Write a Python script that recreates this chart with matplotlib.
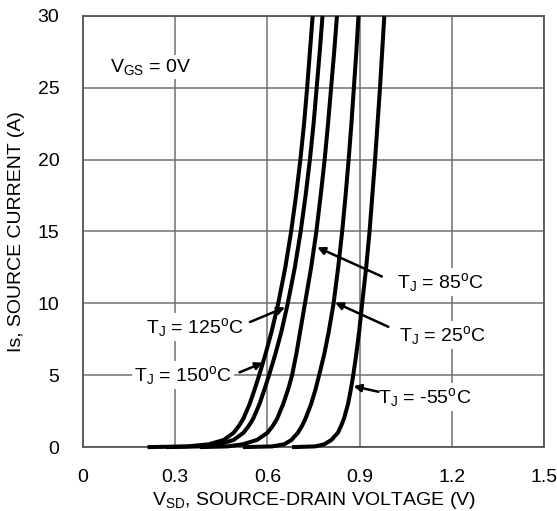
import numpy as np
import matplotlib
matplotlib.use('Agg')
import matplotlib.pyplot as plt

plt.rcParams['font.family'] = ['Liberation Sans', 'DejaVu Sans']
plt.rcParams['mathtext.fontset'] = 'custom'
plt.rcParams['mathtext.rm'] = 'Liberation Sans'
plt.rcParams['mathtext.it'] = 'Liberation Sans'

# source current (A), shared by all curves
current = [0, 0.05, 0.2, 0.5, 1, 1.5, 2, 3, 4, 5, 6.5, 8, 10,
           12.5, 15, 17.5, 20, 22.5, 25, 27.5, 30]

# source-drain voltage (V) read for each junction temperature
v_150 = [0.21, 0.34, 0.41, 0.458, 0.490, 0.508, 0.522, 0.542, 0.558, 0.573, 0.594,
         0.613, 0.635, 0.658, 0.677, 0.693, 0.707, 0.719, 0.729, 0.738, 0.747]
v_125 = [0.27, 0.38, 0.445, 0.490, 0.522, 0.540, 0.554, 0.574, 0.590, 0.605, 0.626,
         0.645, 0.666, 0.689, 0.708, 0.724, 0.738, 0.750, 0.760, 0.770, 0.779]
v_85 = [0.38, 0.47, 0.52, 0.566, 0.600, 0.618, 0.632, 0.651, 0.667, 0.680, 0.694,
        0.706, 0.722, 0.742, 0.759, 0.773, 0.786, 0.797, 0.807, 0.817, 0.826]
v_25 = [0.52, 0.615, 0.655, 0.678, 0.699, 0.713, 0.724, 0.742, 0.756, 0.768, 0.785,
        0.799, 0.815, 0.830, 0.843, 0.854, 0.864, 0.873, 0.881, 0.889, 0.896]
v_m55 = [0.68, 0.755, 0.785, 0.808, 0.829, 0.840, 0.849, 0.862, 0.871, 0.879, 0.889,
         0.898, 0.908, 0.921, 0.932, 0.941, 0.950, 0.958, 0.966, 0.973, 0.980]

x_ticks = [0, 0.3, 0.6, 0.9, 1.2, 1.5]
x_labels = ['0', '0.3', '0.6', '0.9', '1.2', '1.5']
y_ticks = [0, 5, 10, 15, 20, 25, 30]

fig = plt.figure(figsize=(5.57, 5.11), dpi=100)
ax = fig.add_axes([0.149, 0.125, 0.828, 0.844])

#---------------------------------------------------------------------
# curves
#---------------------------------------------------------------------
for v in [v_150, v_125, v_85, v_25, v_m55]:
    ax.plot(v, current, color='black', lw=2.9, solid_capstyle='butt',
            solid_joinstyle='round', clip_on=False, zorder=4)

#---------------------------------------------------------------------
# axes, grid
#---------------------------------------------------------------------
ax.set_xlim(0, 1.5)
ax.set_ylim(0, 30)
ax.set_xticks(x_ticks)
ax.set_xticklabels(x_labels)
ax.set_yticks(y_ticks)
ax.tick_params(length=0, labelsize=14)
ax.tick_params(axis='x', pad=16)
ax.tick_params(axis='y', pad=17)
ax.grid(True, color='#707070', lw=1.1)
ax.set_axisbelow(True)
for s in ax.spines.values():
    s.set_color('#555555')
    s.set_linewidth(1.3)

ax.set_xlabel(r'V$_\mathregular{SD}$, SOURCE-DRAIN VOLTAGE (V)', fontsize=14, va='center')
ax.xaxis.set_label_coords(0.5, -0.124)
ax.set_ylabel('Is, SOURCE CURRENT (A)', fontsize=14, va='center')
ax.yaxis.set_label_coords(-0.145, 0.5)

#---------------------------------------------------------------------
# labels and arrows
#---------------------------------------------------------------------
box = dict(facecolor='white', edgecolor='none', pad=1.5)
ax.text(0.088, 26.44, r'V$_\mathregular{GS}$ = 0V', fontsize=14, va='center', ha='left', bbox=box)

labels = [
    (r'T$_\mathregular{J}$ = 85$^\mathregular{o}$C', (1.162, 11.48), (0.972, 11.87), (0.762, 13.9)),
    (r'T$_\mathregular{J}$ = 25$^\mathregular{o}$C', (1.168, 7.79), (0.993, 8.37), (0.820, 10.06)),
    (r'T$_\mathregular{J}$ = -55$^\mathregular{o}$C', (1.110, 3.48), (0.961, 3.85), (0.880, 4.24)),
    (r'T$_\mathregular{J}$ = 125$^\mathregular{o}$C', (0.364, 8.35), (0.543, 8.70), (0.657, 9.72)),
    (r'T$_\mathregular{J}$ = 150$^\mathregular{o}$C', (0.325, 5.01), (0.509, 5.20), (0.585, 5.87)),
]
for txt, pos, tail, tip in labels:
    ax.text(pos[0], pos[1], txt, fontsize=14, ha='center', va='center', bbox=box, zorder=3)
    ax.annotate('', xy=tip, xytext=tail,
                arrowprops=dict(arrowstyle='-|>', color='black', lw=1.8,
                                mutation_scale=11, shrinkA=0, shrinkB=0),
                zorder=5)

plt.savefig('out.png', dpi=100)
